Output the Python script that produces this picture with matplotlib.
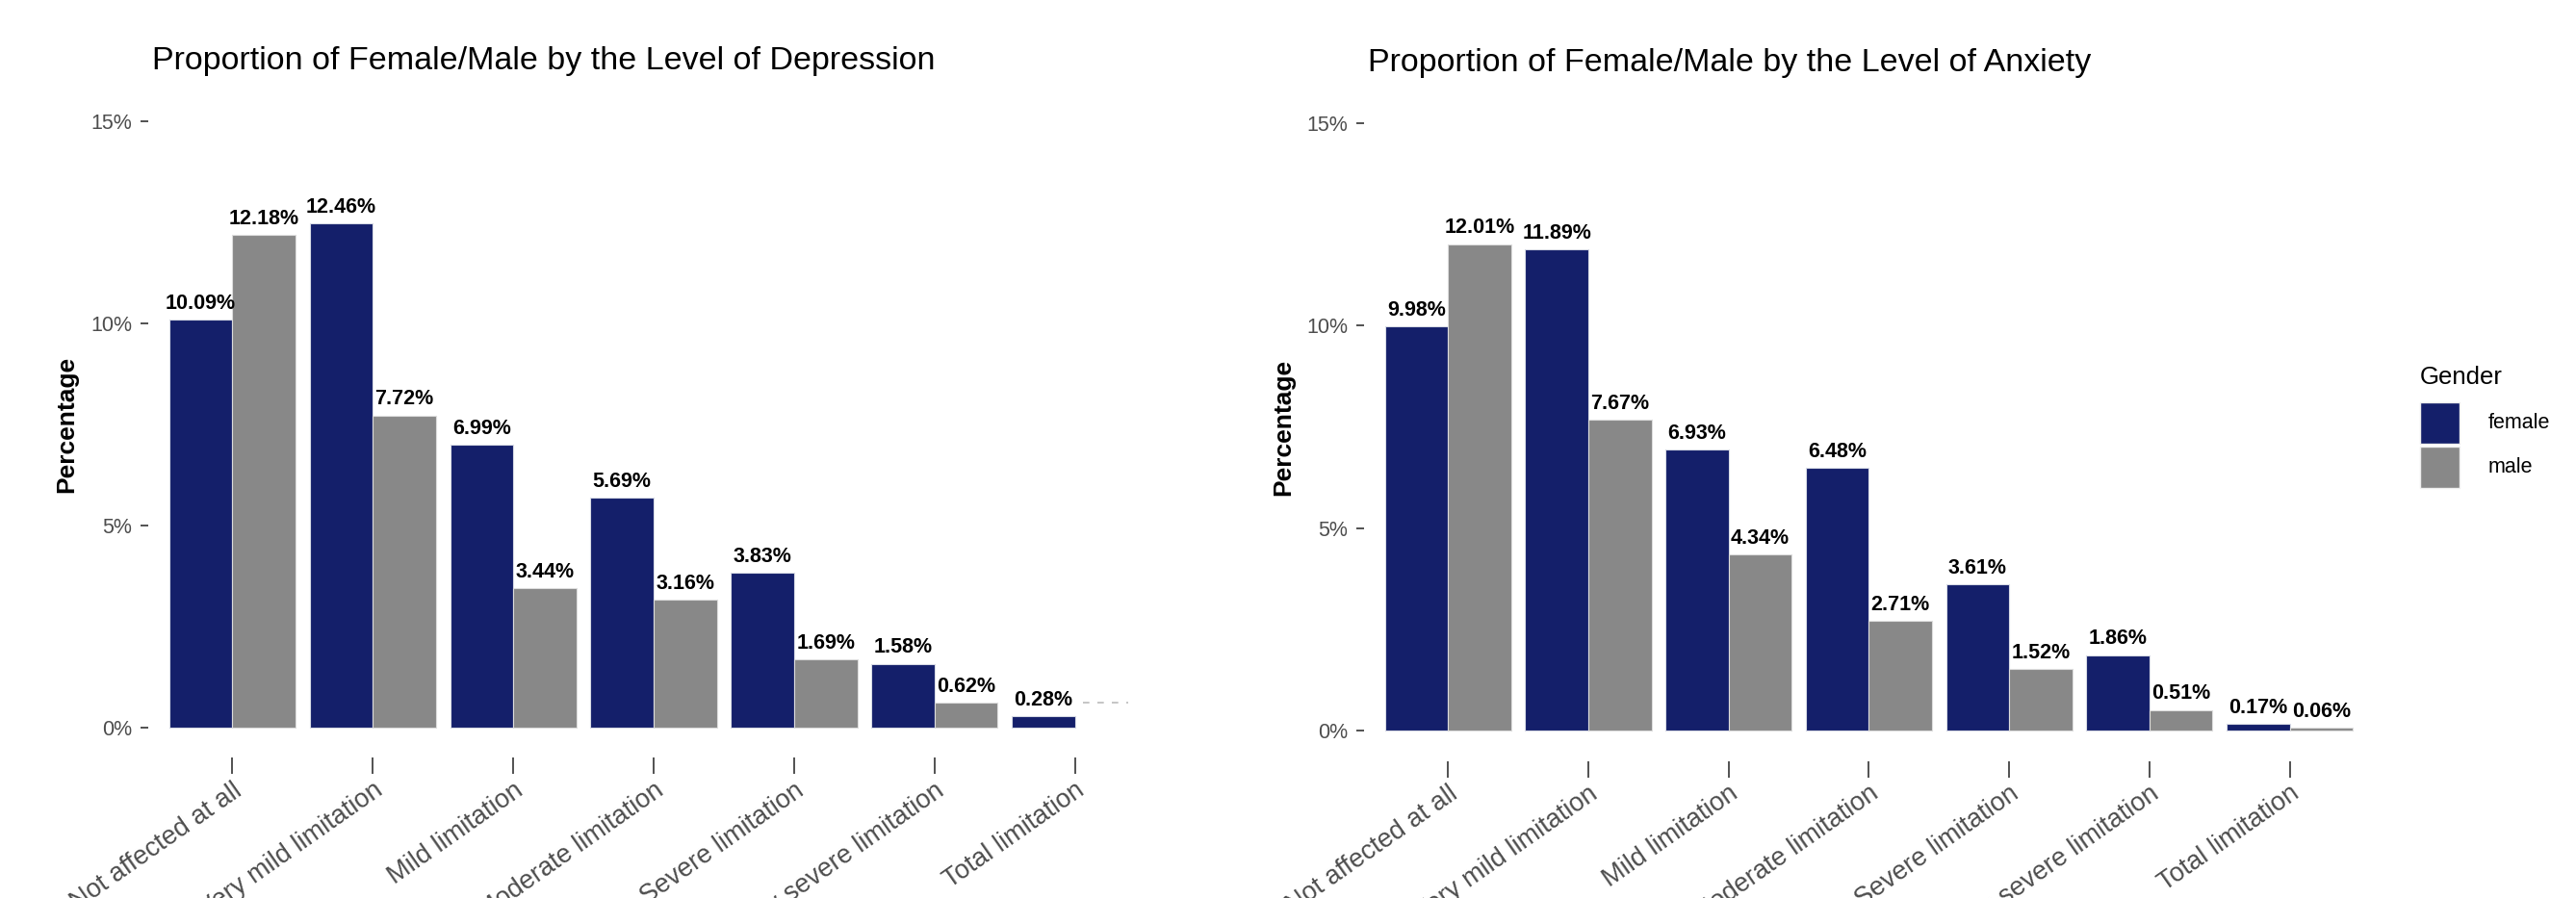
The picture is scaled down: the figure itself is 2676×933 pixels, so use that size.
import matplotlib
matplotlib.use("Agg")
import matplotlib.pyplot as plt
import numpy as np
from matplotlib.patches import Rectangle

plt.rcParams['font.family'] = ['Liberation Sans', 'DejaVu Sans']

categories = ["Not affected at all", "Very mild limitation", "Mild limitation",
              "Moderate limitation", "Severe limitation", "Very severe limitation",
              "Total limitation"]
dep_female = [10.09, 12.46, 6.99, 5.69, 3.83, 1.58, 0.28]
dep_male = [12.18, 7.72, 3.44, 3.16, 1.69, 0.62, None]
anx_female = [9.98, 11.89, 6.93, 6.48, 3.61, 1.86, 0.17]
anx_male = [12.01, 7.67, 4.34, 2.71, 1.52, 0.51, 0.06]
yticks = [0, 5, 10, 15]
ytick_labels = ["0%", "5%", "10%", "15%"]
legend_labels = ["female", "male"]

FEMALE = "#141F6A"
MALE = "#888888"

W, H = 2676, 933
fig = plt.figure(figsize=(W / 100, H / 100), dpi=100)
ax1 = fig.add_axes([0.0575, 0.156, 0.3925, 0.743])
ax2 = fig.add_axes([0.5295, 0.1527, 0.3920, 0.7439])

def draw(ax, fem, mal, title):
    x = np.arange(1, len(categories) + 1)
    w = 0.45
    for xi, v in zip(x, fem):
        if v is not None:
            ax.bar(xi - w / 2, v, width=w, color=FEMALE, edgecolor="#D9DCE6", linewidth=0.8)
            ax.text(xi - w / 2, v + 0.15, f"{v:.2f}%", ha="center", va="bottom",
                    fontsize=15.5, fontweight="bold", color="black")
    for xi, v in zip(x, mal):
        if v is not None:
            ax.bar(xi + w / 2, v, width=w, color=MALE, edgecolor="#DDDDDD", linewidth=0.8)
            ax.text(xi + w / 2, v + 0.15, f"{v:.2f}%", ha="center", va="bottom",
                    fontsize=15.5, fontweight="bold", color="black")
    ax.set_xlim(0.4, len(categories) + 0.6)
    ax.set_ylim(-0.75, 15.75)
    ax.set_yticks(yticks)
    ax.set_yticklabels(ytick_labels, fontsize=15.5, color="#4D4D4D")
    ax.set_xticks(x)
    ax.set_xticklabels(categories, rotation=35, ha="right", va="top",
                       rotation_mode="anchor", fontsize=19.5, color="#4D4D4D")
    ax.tick_params(axis="both", length=6, width=1.2, color="#333333", pad=6)
    ax.tick_params(axis="x", length=12, pad=3)
    for s in ax.spines.values():
        s.set_visible(False)
    ax.set_ylabel("Percentage", fontsize=19, fontweight="bold", labelpad=9)
    ax.set_title(title, loc="left", fontsize=24.5, pad=16, x=0.004)

draw(ax1, dep_female, dep_male, "Proportion of Female/Male by the Level of Depression")
draw(ax2, anx_female, anx_male, "Proportion of Female/Male by the Level of Anxiety")

# faint dashed segment next to the last label of the depression panel
ax1.plot([7.06, 7.38], [0.61, 0.61], linestyle=(0, (4, 5)), color="#BBBBBB", linewidth=1.2)

# legend drawn in figure pixel coordinates
def fx(px):
    return px / W

def fy(py):
    return 1 - py / H

fig.text(fx(2514), fy(392), "Gender", fontsize=18.5, ha="left", va="center")
key_tops = [418, 464]
for top, col, lab in zip(key_tops, [FEMALE, MALE], legend_labels):
    fig.patches.append(Rectangle((fx(2514), fy(top + 43)), fx(41), 43 / H,
                                 transform=fig.transFigure, facecolor=col,
                                 edgecolor="#EEEEEE", linewidth=1.0))
    fig.text(fx(2585), fy(top + 21.5), lab, fontsize=15.5, ha="left", va="center")

fig.savefig("out.png", dpi=100, facecolor="white")
